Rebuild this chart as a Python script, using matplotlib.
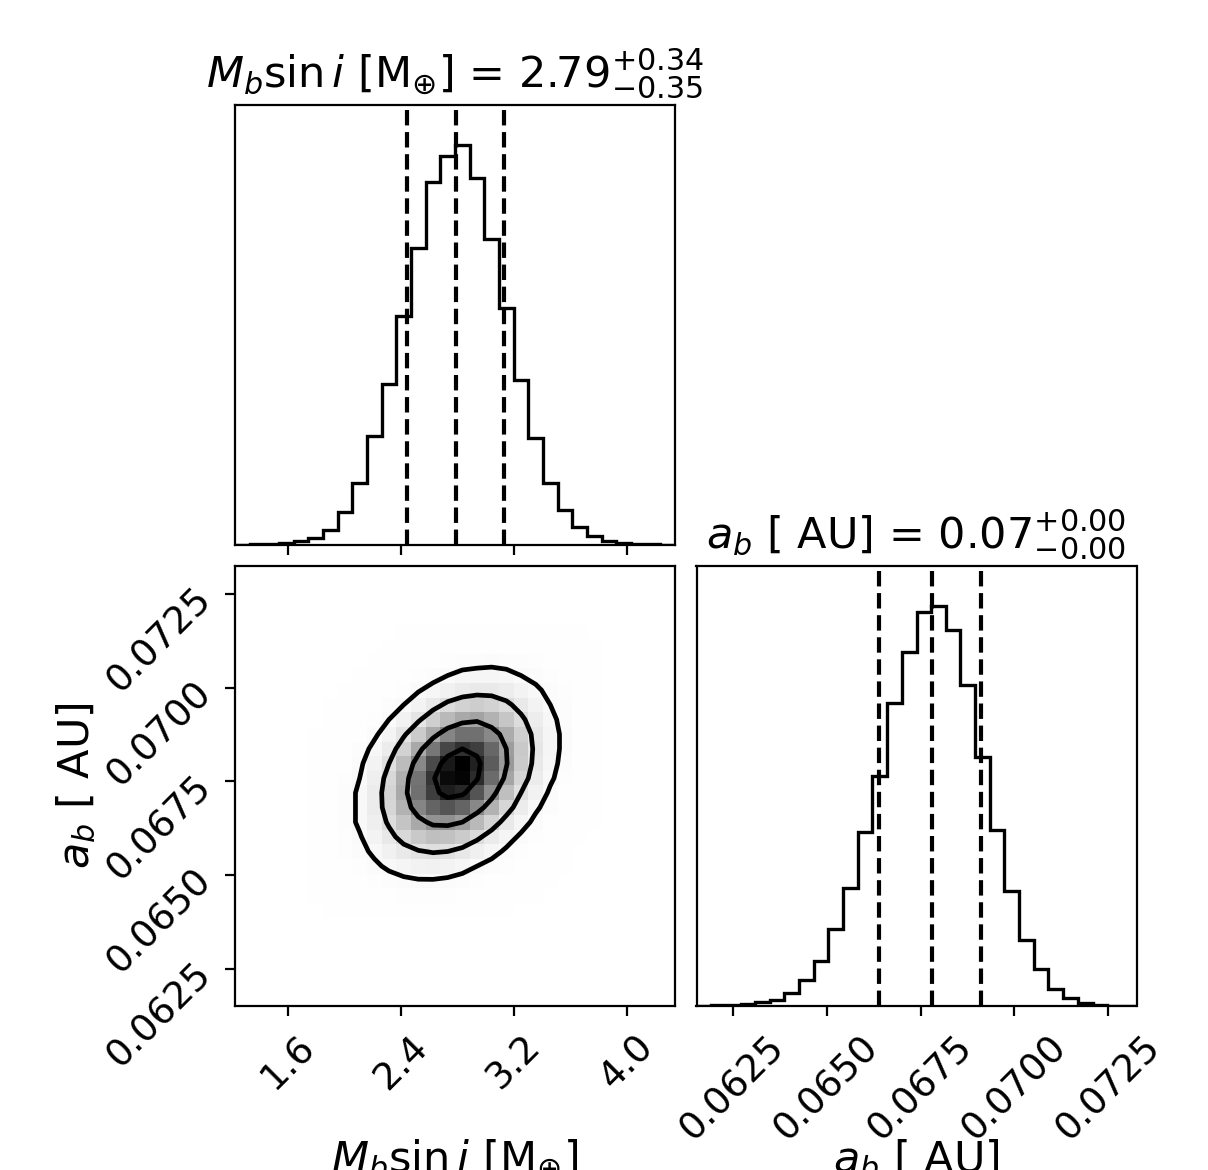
import numpy as np
import matplotlib
matplotlib.use('Agg')
import matplotlib.pyplot as plt
from matplotlib.colors import LinearSegmentedColormap
from matplotlib.ticker import StrMethodFormatter


# Parameter ranges of the panels and the 16/50/84 percent quantiles
m_range = (1.222, 4.343)
a_range = (0.06153, 0.07325)
m_quant = [2.44, 2.79, 3.13]
a_quant = [0.06640, 0.06779, 0.06912]
m_ticks = [1.6, 2.4, 3.2, 4.0]
a_ticks = [0.0625, 0.0650, 0.0675, 0.0700, 0.0725]

m_label = r"$M_b \sin i$ [M$_{\oplus}$]"
a_label = r"$a_b$ [ AU]"
m_title = m_label + r" = ${2.79}_{-0.35}^{+0.34}$"
a_title = a_label + r" = ${0.07}_{-0.00}^{+0.00}$"

# 1D histogram counts (30 bins across each range)
m_counts = [0, 1, 2, 4, 10, 21, 43, 98, 186, 326, 483, 687, 891, 1091, 1168,
            1203, 1103, 920, 710, 495, 321, 186, 103, 53, 25, 11, 5, 2, 1, 0]
a_counts = [0, 1, 2, 5, 10, 17, 37, 77, 135, 230, 353, 520, 690, 907, 1060,
            1180, 1200, 1128, 963, 747, 527, 343, 198, 110, 50, 23, 7, 2, 0, 0]

# 2D density (relative, top row first), covering m bins 5..24, a bins 6..25
k0, j0 = 5, 6
dens = [
    [0, 0, 0, 0, 0, 0, 1, 1, 1, 2, 2, 3, 3, 3, 3, 2, 2, 1, 1, 0],
    [0, 0, 0, 0, 0, 1, 1, 2, 3, 4, 5, 6, 6, 6, 5, 4, 3, 2, 1, 1],
    [0, 0, 0, 0, 1, 1, 2, 4, 6, 8, 9, 10, 11, 10, 9, 7, 5, 3, 2, 1],
    [0, 0, 0, 1, 1, 3, 5, 7, 10, 14, 17, 18, 18, 17, 14, 11, 8, 5, 3, 2],
    [0, 0, 1, 1, 3, 5, 8, 13, 18, 23, 27, 29, 29, 26, 21, 16, 11, 7, 4, 2],
    [0, 1, 1, 3, 5, 9, 14, 21, 29, 37, 42, 44, 42, 37, 29, 21, 14, 9, 5, 3],
    [0, 1, 2, 4, 8, 14, 22, 32, 43, 52, 58, 60, 55, 47, 37, 26, 17, 10, 6, 3],
    [1, 1, 3, 6, 12, 20, 32, 45, 58, 69, 75, 75, 68, 57, 43, 30, 19, 11, 6, 3],
    [1, 2, 5, 9, 17, 27, 42, 58, 73, 85, 90, 87, 77, 62, 46, 31, 19, 11, 6, 3],
    [1, 3, 6, 12, 21, 34, 51, 68, 84, 95, 100, 93, 80, 63, 45, 30, 18, 10, 5, 2],
    [2, 4, 8, 14, 25, 39, 56, 74, 89, 98, 99, 91, 76, 59, 41, 27, 16, 8, 4, 2],
    [2, 4, 9, 16, 27, 41, 58, 75, 87, 94, 92, 82, 67, 50, 34, 22, 12, 6, 3, 1],
    [2, 5, 9, 16, 27, 40, 55, 69, 78, 82, 78, 68, 55, 40, 27, 16, 9, 5, 2, 1],
    [2, 5, 9, 16, 25, 36, 48, 58, 65, 66, 62, 52, 41, 29, 19, 11, 6, 3, 1, 1],
    [2, 4, 8, 13, 21, 30, 39, 46, 50, 49, 45, 37, 28, 19, 12, 7, 4, 2, 1, 0],
    [2, 4, 7, 11, 16, 23, 29, 33, 35, 34, 30, 24, 18, 12, 7, 4, 2, 1, 0, 0],
    [1, 3, 5, 8, 12, 16, 19, 22, 23, 21, 18, 14, 10, 7, 4, 2, 1, 1, 0, 0],
    [1, 2, 3, 5, 8, 10, 12, 13, 13, 12, 10, 8, 6, 4, 2, 1, 1, 0, 0, 0],
    [1, 1, 2, 3, 5, 6, 7, 8, 7, 7, 5, 4, 3, 2, 1, 1, 0, 0, 0, 0],
    [0, 1, 1, 2, 3, 3, 4, 4, 4, 3, 3, 2, 1, 1, 0, 0, 0, 0, 0, 0],
]

nbins = len(m_counts)
m_edges = np.linspace(m_range[0], m_range[1], nbins + 1)
a_edges = np.linspace(a_range[0], a_range[1], nbins + 1)

H = np.zeros((nbins, nbins))
block = np.flipud(np.array(dens, dtype=float))
H[j0:j0 + block.shape[0], k0:k0 + block.shape[1]] = block

# density levels (0.5, 1, 1.5, 2 sigma), as corner does it
levels = 1.0 - np.exp(-0.5 * np.arange(0.5, 2.1, 0.5) ** 2)
Hflat = np.sort(H.flatten())[::-1]
sm = np.cumsum(Hflat)
sm /= sm[-1]
V = np.array([Hflat[sm <= v0][-1] for v0 in levels])
V.sort()

tick_fs = 13.5
lab_fs = 15.5

W, Hpx = 1208, 1170
fig = plt.figure(figsize=(W / 200, Hpx / 200), dpi=200)
w = 440 / W
h = 440 / Hpx
x0 = 235 / W
x1 = 696.5 / W
y0 = (Hpx - 1005.5) / Hpx
y1 = (Hpx - 544.5) / Hpx

ax_m = fig.add_axes([x0, y1, w, h])
ax_2d = fig.add_axes([x0, y0, w, h])
ax_a = fig.add_axes([x1, y0, w, h])

# top: M sin i histogram
ax_m.stairs(m_counts, m_edges, color='k', lw=1.2)
for q in m_quant:
    ax_m.axvline(q, color='k', ls='--', lw=1.5)
ax_m.set_xlim(m_range)
ax_m.set_ylim(0, 1.1 * max(m_counts))
ax_m.set_yticks([])
ax_m.set_xticks(m_ticks)
ax_m.set_xticklabels([])
ax_m.set_title(m_title, fontsize=lab_fs)

# right: a histogram
ax_a.stairs(a_counts, a_edges, color='k', lw=1.2)
for q in a_quant:
    ax_a.axvline(q, color='k', ls='--', lw=1.5)
ax_a.set_xlim(a_range)
ax_a.set_ylim(0, 1.1 * max(a_counts))
ax_a.set_yticks([])
ax_a.set_xticks(a_ticks)
ax_a.xaxis.set_major_formatter(StrMethodFormatter('{x:.4f}'))
ax_a.set_title(a_title, fontsize=lab_fs)
ax_a.set_xlabel(a_label, fontsize=lab_fs)
ax_a.xaxis.set_label_coords(0.5, -0.3)

# 2D density with contours
density_cmap = LinearSegmentedColormap.from_list(
    'density_cmap', [(0, 0, 0, 1), (1, 1, 1, 0)])
ax_2d.pcolormesh(m_edges, a_edges, H.max() - H, cmap=density_cmap,
                 shading='flat')
m_c = 0.5 * (m_edges[1:] + m_edges[:-1])
a_c = 0.5 * (a_edges[1:] + a_edges[:-1])
ax_2d.contour(m_c, a_c, H, V, colors='k', linewidths=1.7)
ax_2d.set_xlim(m_range)
ax_2d.set_ylim(a_range)
ax_2d.set_xticks(m_ticks)
ax_2d.set_yticks(a_ticks)
ax_2d.xaxis.set_major_formatter(StrMethodFormatter('{x:.1f}'))
ax_2d.yaxis.set_major_formatter(StrMethodFormatter('{x:.4f}'))
ax_2d.set_xlabel(m_label, fontsize=lab_fs)
ax_2d.xaxis.set_label_coords(0.5, -0.3)
ax_2d.set_ylabel(a_label, fontsize=lab_fs)
ax_2d.yaxis.set_label_coords(-0.31, 0.5)

for ax in (ax_2d, ax_a):
    ax.tick_params(axis='x', labelsize=tick_fs, pad=5)
    for lab in ax.get_xticklabels():
        lab.set_rotation(45)
        lab.set_ha('center')
        lab.set_va('top')
ax_2d.tick_params(axis='y', labelsize=tick_fs, pad=7)
for lab in ax_2d.get_yticklabels():
    lab.set_rotation(45)
    lab.set_ha('right')
    lab.set_va('center')
    lab.set_rotation_mode('anchor')

fig.savefig('out.png', dpi=200)
